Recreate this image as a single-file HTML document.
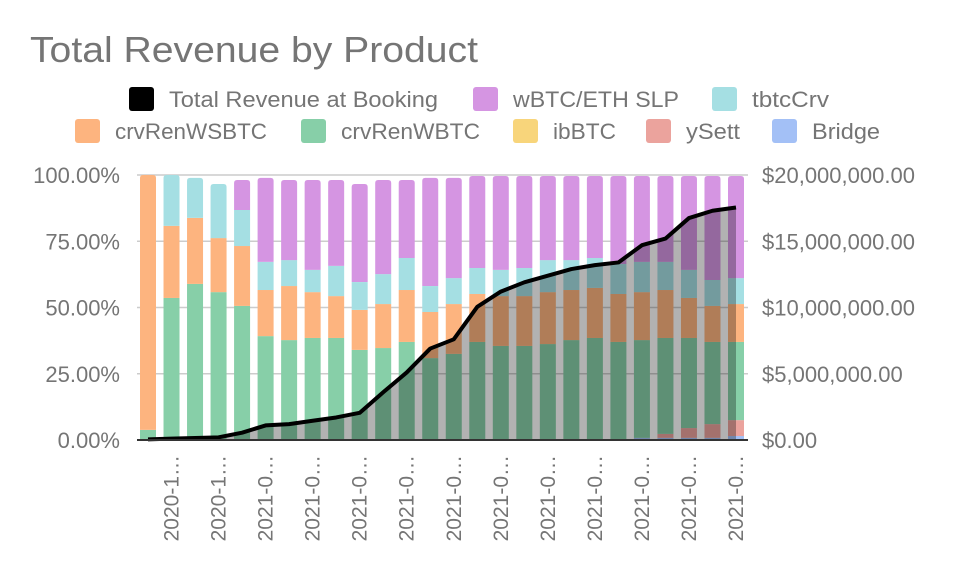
<!DOCTYPE html>
<html><head><meta charset="utf-8"><style>
body{margin:0;background:#fff;}
svg text{font-family:"Liberation Sans",Arial,sans-serif;fill:#757575;}
</style></head><body>
<svg id="chart" width="955" height="577" xmlns="http://www.w3.org/2000/svg">
<text x="30" y="62" font-size="36" textLength="448" lengthAdjust="spacingAndGlyphs">Total Revenue by Product</text>
<g id="legend"></g>
<g id="grid"></g><g id="bars"></g><g id="line"></g><g id="axes"></g>
</svg>
<script>
const categories=["2020-10-01","2020-10-08","2020-10-15","2020-10-22","2020-10-29","2021-01-05","2021-01-12","2021-01-19","2021-01-26","2021-02-02","2021-02-09","2021-02-16","2021-02-23","2021-03-02","2021-03-09","2021-03-16","2021-03-23","2021-03-30","2021-04-06","2021-04-13","2021-04-20","2021-04-27","2021-05-04","2021-05-11","2021-05-18","2021-05-25"];
const bridge=[0,0,0,0,0,0,0,0,0,0,0,0,0,0,0,0,0,0,0,0,0,0.8,0.8,0.8,0.8,1.5];
const ySett=[0,0,0,0,0,0,0,0,0,0,0,0,0,0,0,0,0,0,0,0,0,0,1.5,3.7,5.2,6.0];
const ibBTC=[0,0,0,0,0,0,0,0,0,0,0,0,0,0,0,0,0,0,0,0,0,0,0,0,0,0];
const crvRenWBTC=[3.8,53.6,58.9,55.8,50.6,39.2,37.7,38.5,38.5,34.0,34.7,37.0,30.9,32.5,37.0,35.5,35.5,36.2,37.7,38.5,37.0,36.9,36.2,34.0,31.0,29.5];
const crvRenWSBTC=[96.2,27.2,24.9,20.4,22.6,17.4,20.4,17.3,15.8,15.1,16.6,19.6,17.4,18.8,18.1,18.8,18.8,19.6,18.9,18.9,18.1,18.1,18.1,15.1,13.6,14.3];
const tbtcCrv=[0,19.2,15.1,20.4,13.6,10.6,9.8,8.4,11.4,10.5,11.3,12.1,9.8,9.8,9.8,9.9,10.6,12.1,11.3,11.3,11.3,11.4,10.6,10.6,9.8,9.8];
const wbtcEthSlp=[0,0,0,0,11.3,31.7,30.2,33.9,32.4,37.0,35.5,29.4,40.8,37.8,34.7,35.4,34.7,31.7,31.7,30.9,33.2,32.4,32.4,35.4,39.2,38.5];
const totalRevenue=[0.05,0.1,0.15,0.2,0.55,1.1,1.2,1.45,1.7,2.05,3.6,5.1,6.9,7.6,10.05,11.2,11.9,12.4,12.9,13.2,13.4,14.7,15.2,16.75,17.3,17.55];
const leftTicks=["0.00%","25.00%","50.00%","75.00%","100.00%"];
const rightTicks=["$0.00","$5,000,000.00","$10,000,000.00","$15,000,000.00","$20,000,000.00"];
const NS="http://www.w3.org/2000/svg";
const x0=148,step=23.52,bw=16,yTop=175,yBot=440;
const xPos=i=>x0+i*step;
const yPct=p=>yBot-(p/100)*(yBot-yTop);
const yMoney=m=>yBot-(m/20)*(yBot-yTop);
function mk(tag,attrs,parent){const e=document.createElementNS(NS,tag);for(const k in attrs)e.setAttribute(k,attrs[k]);parent.appendChild(e);return e;}
const grid=document.getElementById('grid'),axes=document.getElementById('axes');
leftTicks.forEach((t,i)=>{const y=yPct(i*25);
 if(i>0){const l=mk('line',{x1:137,x2:748,y1:y,y2:y,stroke:'#cccccc','stroke-width':1.5},grid);
 
 }
 const tl=mk('text',{x:120,y:y+8,'text-anchor':'end','font-size':22},axes);tl.textContent=t;
 
 
 const tr=mk('text',{x:762,y:y+8,'font-size':22},axes);tr.textContent=rightTicks[i];
 
 
});
const series=[[bridge,'#a3c0f6','bridge'],[ySett,'#eba39d','ysett'],[ibBTC,'#f8d57b','ibbtc'],[crvRenWBTC,'#87cfa8','crvrenwbtc'],[crvRenWSBTC,'#fdb47f','crvrenwsbtc'],[tbtcCrv,'#a5dfe3','tbtccrv'],[wbtcEthSlp,'#d595e2','wbtc-eth-slp']];
const bars=document.getElementById('bars');
categories.forEach((c,i)=>{let acc=0;let topIdx=-1;series.forEach((s,k)=>{if(s[0][i]>0)topIdx=k;});
 series.forEach((s,k)=>{const v=s[0][i];if(v<=0)return;
  const y1=yPct(acc+v),y2=yPct(acc);acc+=v;const x=xPos(i)-bw/2;let el;
  if(k===topIdx){const r=3;el=mk('path',{d:`M${x},${y2}V${y1+r}Q${x},${y1} ${x+r},${y1}H${x+bw-r}Q${x+bw},${y1} ${x+bw},${y1+r}V${y2}Z`,fill:s[1]},bars);}
  else el=mk('rect',{x:x,y:y1,width:bw,height:y2-y1,fill:s[1]},bars);
  
  
 });
});
const lg=document.getElementById('line');
let pts=totalRevenue.map((v,i)=>xPos(i)+','+yMoney(v));
const area=mk('path',{d:`M${xPos(0)},${yBot}L${pts.join('L')}L${xPos(totalRevenue.length-1)},${yBot}Z`,fill:'rgba(0,0,0,0.3)'},lg);


const ln=mk('polyline',{points:pts.join(' '),fill:'none',stroke:'#000','stroke-width':4,'stroke-linejoin':'round'},lg);


const base=mk('line',{x1:137,x2:748,y1:yBot,y2:yBot,stroke:'#333','stroke-width':2},axes);


categories.forEach((c,i)=>{if(i%2!==1)return;const x=xPos(i)+7;
 const t=mk('text',{x:0,y:0,'font-size':21,'text-anchor':'end',transform:`translate(${x},455) rotate(-90)`},axes);
 t.textContent=c.slice(0,6)+'…';
 
 
});
const legendItems=[["Total Revenue at Booking","#000",129,99,269],["wBTC/ETH SLP","#d595e2",473,99,166],["tbtcCrv","#a5dfe3",712,99,77],["crvRenWSBTC","#fdb47f",75,131,152],["crvRenWBTC","#87cfa8",301,131,139],["ibBTC","#f8d57b",513,131,63],["ySett","#eba39d",646,131,54],["Bridge","#a3c0f6",772,131,68]];
const legend=document.getElementById('legend');
legendItems.forEach(it=>{const g=mk('g',{},legend);
 
 
 mk('rect',{x:it[2],y:it[3]-12,width:25,height:24,rx:3,fill:it[1]},g);
 const t=mk('text',{x:it[2]+40,y:it[3]+8,'font-size':22,textLength:it[4],lengthAdjust:'spacingAndGlyphs'},g);t.textContent=it[0];
});
</script>
</body></html>
